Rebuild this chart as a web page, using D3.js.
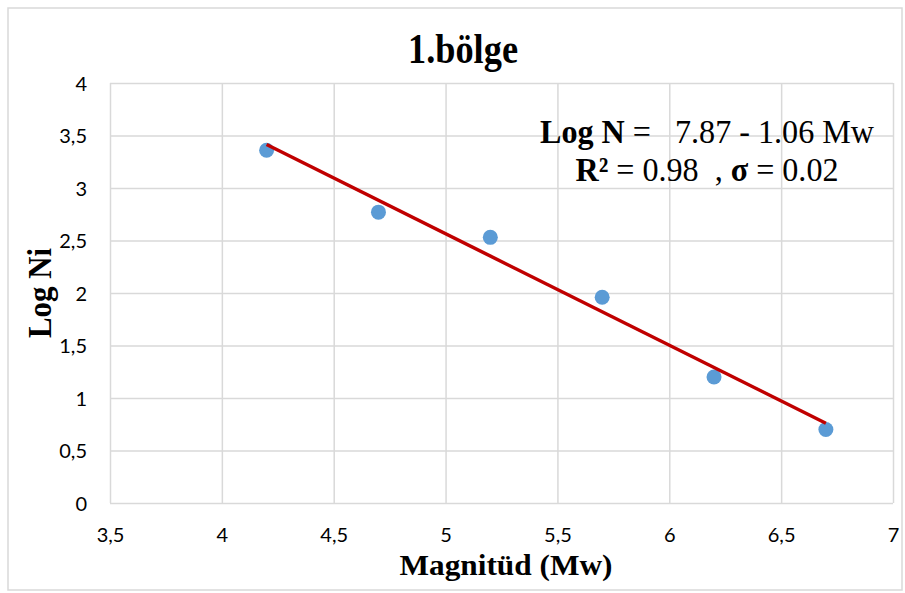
<!DOCTYPE html>
<html>
<head>
<meta charset="utf-8">
<script src="https://cdn.jsdelivr.net/npm/d3@7"></script>
<style>
  html, body { margin: 0; padding: 0; background: #fff; }
  svg { display: block; }
  text { white-space: pre; }
</style>
</head>
<body>
<svg id="chart" width="905" height="593"></svg>
<script>
// ---- data ----
const magnitudes = [4.2, 4.7, 5.2, 5.7, 6.2, 6.7];
const logNi = [3.36, 2.77, 2.53, 1.96, 1.20, 0.70];
const xTicks = [3.5, 4, 4.5, 5, 5.5, 6, 6.5, 7];
const yTicks = [0, 0.5, 1, 1.5, 2, 2.5, 3, 3.5, 4];
const chartTitle = "1.bölge";
const xTitle = "Magnitüd (Mw)";
const yTitle = "Log Ni";

const svg = d3.select("#chart");
const plot = { left: 110, right: 893, top: 83, bottom: 503 };

// outer border
svg.append("rect")
  .attr("x", 8).attr("y", 8).attr("width", 894).attr("height", 582)
  .attr("fill", "#fff").attr("stroke", "#d9d9d9").attr("stroke-width", 1.5);

const x = d3.scaleLinear().domain([3.5, 7]).range([plot.left, plot.right]);
const y = d3.scaleLinear().domain([0, 4]).range([plot.bottom, plot.top]);

const fmt = d => String(d).replace(".", ",");
const gridColor = "#d9d9d9";
const tickFont = "Lato, 'Open Sans', sans-serif";

// vertical gridlines + x tick labels
svg.append("g").attr("transform", `translate(0,${plot.bottom})`)
  .call(d3.axisBottom(x).tickValues(xTicks).tickSize(-(plot.bottom - plot.top)).tickFormat(fmt))
  .call(g => g.select(".domain").remove())
  .call(g => g.selectAll(".tick line").attr("stroke", gridColor).attr("stroke-width", 1.5))
  .call(g => g.selectAll(".tick text")
      .attr("y", 39).attr("dy", 0)
      .attr("font-family", tickFont)
      .attr("font-size", 20).attr("fill", "#000"));

// horizontal gridlines + y tick labels
svg.append("g").attr("transform", `translate(${plot.left},0)`)
  .call(d3.axisLeft(y).tickValues(yTicks).tickSize(-(plot.right - plot.left)).tickFormat(fmt))
  .call(g => g.select(".domain").remove())
  .call(g => g.selectAll(".tick line").attr("stroke", gridColor).attr("stroke-width", 1.5))
  .call(g => g.selectAll(".tick text")
      .attr("x", -23).attr("dy", "0.36em")
      .attr("font-family", tickFont)
      .attr("font-size", 20).attr("fill", "#000"));

// linear regression trendline (computed from data)
const mx = d3.mean(magnitudes), my = d3.mean(logNi);
const sxy = d3.sum(magnitudes, (v, i) => (v - mx) * (logNi[i] - my));
const sxx = d3.sum(magnitudes, v => (v - mx) * (v - mx));
const slope = sxy / sxx, intercept = my - slope * mx;
const xExt = d3.extent(magnitudes);

// points
svg.append("g").selectAll("circle")
  .data(magnitudes.map((m, i) => [m, logNi[i]]))
  .join("circle")
  .attr("cx", d => x(d[0])).attr("cy", d => y(d[1]))
  .attr("r", 7.5).attr("fill", "#5b9bd5");

svg.append("path")
  .datum(xExt.map(v => [v, intercept + slope * v]))
  .attr("d", d3.line().x(d => x(d[0])).y(d => y(d[1])))
  .attr("fill", "none").attr("stroke", "#c00000").attr("stroke-width", 3.5);

const serif = "'Liberation Serif', 'Times New Roman', serif";

// title
svg.append("text")
  .attr("transform", "translate(463,63) scale(1,1.12)").attr("text-anchor", "middle")
  .attr("font-family", serif).attr("font-weight", "bold").attr("font-size", 38)
  .attr("textLength", 110).attr("lengthAdjust", "spacingAndGlyphs")
  .text(chartTitle);

// x title
svg.append("text")
  .attr("x", 506).attr("y", 575).attr("text-anchor", "middle")
  .attr("font-family", serif).attr("font-weight", "bold").attr("font-size", 29)
  .attr("textLength", 213).attr("lengthAdjust", "spacingAndGlyphs")
  .text(xTitle);

// y title
svg.append("text")
  .attr("transform", "translate(51,293) rotate(-90) scale(1,1.12)").attr("text-anchor", "middle")
  .attr("font-family", serif).attr("font-weight", "bold").attr("font-size", 30)
  .attr("textLength", 90).attr("lengthAdjust", "spacingAndGlyphs")
  .text(yTitle);

// equation box
const eq1 = svg.append("text")
  .attr("transform", "translate(707,143) scale(1,1.1)").attr("text-anchor", "middle")
  .attr("font-family", serif).attr("font-size", 30)
  .attr("textLength", 334).attr("lengthAdjust", "spacingAndGlyphs");
eq1.append("tspan").attr("font-weight", "bold").text("Log N");
eq1.append("tspan").text(" =   7.87 - 1.06 Mw");

const eq2 = svg.append("text")
  .attr("transform", "translate(707,181) scale(1,1.1)").attr("text-anchor", "middle")
  .attr("font-family", serif).attr("font-size", 30)
  .attr("textLength", 263).attr("lengthAdjust", "spacingAndGlyphs");
eq2.append("tspan").attr("font-weight", "bold").text("R²");
eq2.append("tspan").text(" = 0.98  , ");
eq2.append("tspan").attr("font-weight", "bold").text("σ");
eq2.append("tspan").text(" = 0.02");
</script>
</body>
</html>
